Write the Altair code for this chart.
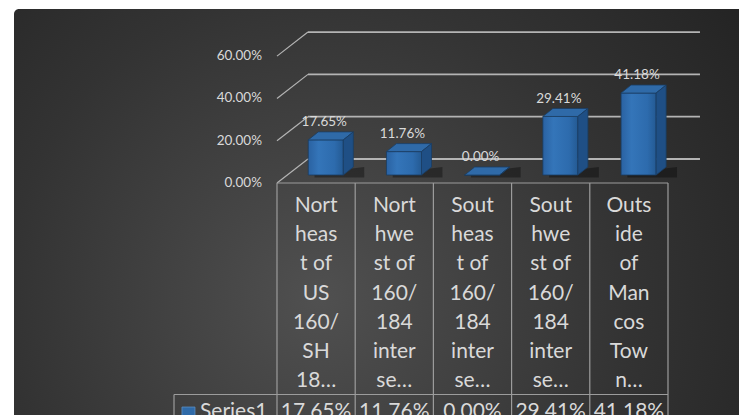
import altair as alt
import pandas as pd

# ---------------- data ----------------
category_lines = [
    ["Nort", "heas", "t of", "US", "160/", "SH", "18…"],
    ["Nort", "hwe", "st of", "160/", "184", "inter", "se…"],
    ["Sout", "heas", "t of", "160/", "184", "inter", "se…"],
    ["Sout", "hwe", "st of", "160/", "184", "inter", "se…"],
    ["Outs", "ide", "of", "Man", "cos", "Tow", "n…"],
]
values = [0.1765, 0.1176, 0.0, 0.2941, 0.4118]
value_labels = ["17.65%", "11.76%", "0.00%", "29.41%", "41.18%"]
y_ticks = [0.0, 0.2, 0.4, 0.6]
y_tick_labels = ["0.00%", "20.00%", "40.00%", "60.00%"]
series_name = "Series1"

# ---------------- layout / style ----------------
W, H = 725, 406
X_DOMAIN = [-3.363, 5.908]       # category units (one table column = 1)
Y_DOMAIN = [-1.0969, 0.8227]     # value units
DDX, DDY = 0.396, 0.1135         # oblique depth of the back wall
BACK_END = 5.409
BAR_BASE, BAR_SCALE = 0.0378, 0.941
BAR_L, BAR_R = 0.40, 0.848
BAR_DX, BAR_DY = 0.128, 0.0378
LABEL_GAP = 0.047
FONT = "Lato"
TXT = "#d9d9d9"
GRID = "#b4b4b4"
TABLE = "#9c9c9c"
EDGE = "#1b3d63"

xs = alt.Scale(domain=X_DOMAIN, nice=False, zero=False)
ys = alt.Scale(domain=Y_DOMAIN, nice=False, zero=False)


def X(f):
    return alt.X(f"{f}:Q", scale=xs, axis=None)


def Y(f):
    return alt.Y(f"{f}:Q", scale=ys, axis=None)


# background
bg = alt.Chart(pd.DataFrame({"a": [0]})).mark_rect(
    fill=alt.RadialGradient(
        gradient="radial",
        stops=[alt.GradientStop(color="#505050", offset=0),
               alt.GradientStop(color="#333333", offset=0.55),
               alt.GradientStop(color="#202020", offset=1)],
        x1=0.42, y1=0.62, r1=0, x2=0.42, y2=0.62, r2=0.78),
    cornerRadiusTopLeft=5,
).encode(x=alt.value(0), x2=alt.value(W), y=alt.value(0), y2=alt.value(H))

# gridlines (3D back wall)
grid_df = pd.DataFrame({"t": y_ticks})
grid_df["x0"] = 0.0
grid_df["x1"] = DDX
grid_df["xe"] = BACK_END
grid_df["tb"] = grid_df["t"] + DDY
diag = alt.Chart(grid_df).mark_rule(color=GRID, strokeWidth=1.2).encode(
    x=X("x0"), x2="x1", y=Y("t"), y2="tb")
back = alt.Chart(grid_df).mark_rule(color=GRID, strokeWidth=1.8).encode(
    x=X("x1"), x2="xe", y=Y("tb"))

# y tick labels
tick_df = pd.DataFrame({"t": y_ticks, "label": y_tick_labels})
tick_df["x"] = -0.192
ticks = alt.Chart(tick_df).mark_text(
    align="right", baseline="middle", font=FONT, fontSize=13.5, color=TXT
).encode(x=X("x"), y=Y("t"), text="label")

# table grid
n = len(values)
vlines = pd.DataFrame({"x": list(range(n + 1))})
vlines["y0"] = 0.0
vlines["y1"] = Y_DOMAIN[0]
tab_v = alt.Chart(vlines).mark_rule(color=TABLE, strokeWidth=1.2).encode(
    x=X("x"), y=Y("y0"), y2="y1")
hlines = pd.DataFrame({"x0": [0.0, -1.317], "x1": [float(n), float(n)], "y": [0.0, -1.0]})
tab_h = alt.Chart(hlines).mark_rule(color=TABLE, strokeWidth=1.2).encode(
    x=X("x0"), x2="x1", y=Y("y"))
lcell = pd.DataFrame({"x": [-1.317], "y0": [-1.0], "y1": [Y_DOMAIN[0]]})
tab_l = alt.Chart(lcell).mark_rule(color=TABLE, strokeWidth=1.2).encode(
    x=X("x"), y=Y("y0"), y2="y1")

# 3D bars
front, top, side, shadow, lab = [], [], [], [], []
for i, v in enumerate(values):
    xl, xr = i + BAR_L, i + BAR_R
    yb = BAR_BASE
    yt = BAR_BASE + v * BAR_SCALE
    front.append(dict(bar=i, xl=xl, xr=xr, yb=yb, yt=yt))
    top += [dict(bar=i, x=xl, lo=yt, hi=yt),
            dict(bar=i, x=xl + BAR_DX, lo=yt, hi=yt + BAR_DY),
            dict(bar=i, x=xr, lo=yt, hi=yt + BAR_DY),
            dict(bar=i, x=xr + BAR_DX, lo=yt + BAR_DY, hi=yt + BAR_DY)]
    side += [dict(bar=i, x=xr, lo=yb, hi=yt),
             dict(bar=i, x=xr + BAR_DX, lo=yb + BAR_DY, hi=yt + BAR_DY)]
    shadow += [dict(bar=i, x=xl + 0.08, lo=yb - 0.012, hi=yb + 0.01),
               dict(bar=i, x=xr + BAR_DX + 0.14, lo=yb - 0.012, hi=yb + BAR_DY)]
    lab.append(dict(x=(xl + xr) / 2 - 0.02, y=yt + BAR_DY + LABEL_GAP, label=value_labels[i]))

shadow_l = alt.Chart(pd.DataFrame(shadow)).mark_area(color="#000000", opacity=0.35).encode(
    x=X("x"), y=Y("lo"), y2="hi", detail="bar:N")
front_l = alt.Chart(pd.DataFrame(front)).mark_rect(
    fill=alt.LinearGradient(
        gradient="linear",
        stops=[alt.GradientStop(color="#2a62a2", offset=0),
               alt.GradientStop(color="#3475b9", offset=0.3),
               alt.GradientStop(color="#2d6bad", offset=0.75),
               alt.GradientStop(color="#245a93", offset=1)],
        x1=0, y1=0, x2=1, y2=0),
    stroke=EDGE, strokeWidth=0.8,
).encode(x=X("xl"), x2="xr", y=Y("yb"), y2="yt")
top_l = alt.Chart(pd.DataFrame(top)).mark_area(
    color="#2f6aa8", stroke=EDGE, strokeWidth=0.8).encode(
    x=X("x"), y=Y("lo"), y2="hi", detail="bar:N")
side_l = alt.Chart(pd.DataFrame(side)).mark_area(
    color="#1f4f85", stroke=EDGE, strokeWidth=0.8).encode(
    x=X("x"), y=Y("lo"), y2="hi", detail="bar:N")
labels = alt.Chart(pd.DataFrame(lab)).mark_text(
    align="center", baseline="middle", font=FONT, fontSize=13.5, color=TXT
).encode(x=X("x"), y=Y("y"), text="label")

# data table text
rows = []
for i, lines in enumerate(category_lines):
    for k, s in enumerate(lines):
        rows.append(dict(x=i + 0.5, y=-0.1357 - 0.1385 * k, text=s))
cat_text = alt.Chart(pd.DataFrame(rows)).mark_text(
    align="center", baseline="alphabetic", font=FONT, fontSize=21, color=TXT
).encode(x=X("x"), y=Y("y"), text="text")

val_df = pd.DataFrame({"x": [i + 0.5 for i in range(n)], "text": value_labels})
val_df["y"] = -1.111
val_text = alt.Chart(val_df).mark_text(
    align="center", baseline="alphabetic", font=FONT, fontSize=21, color=TXT
).encode(x=X("x"), y=Y("y"), text="text")

ser_df = pd.DataFrame({"x": [-0.985], "y": [-1.111], "text": [series_name]})
ser_text = alt.Chart(ser_df).mark_text(
    align="left", baseline="alphabetic", font=FONT, fontSize=21, color=TXT
).encode(x=X("x"), y=Y("y"), text="text")
key_df = pd.DataFrame({"x": [-1.132], "y": [-1.090]})
key = alt.Chart(key_df).mark_square(size=169, fill="#2f6aa8", stroke="#5b8fc7",
                                     strokeWidth=0.8, opacity=1).encode(x=X("x"), y=Y("y"))

chart = alt.layer(
    bg, diag, back, tab_v, tab_h, tab_l, ticks,
    shadow_l, front_l, top_l, side_l, labels,
    cat_text, val_text, ser_text, key,
).properties(
    width=W, height=H,
    padding={"left": 6, "top": 1, "right": 0, "bottom": 0},
    autosize="none",
    background="white",
).configure_view(stroke=None)

chart.save("out.html", embed_options={"renderer": "svg", "actions": False})
